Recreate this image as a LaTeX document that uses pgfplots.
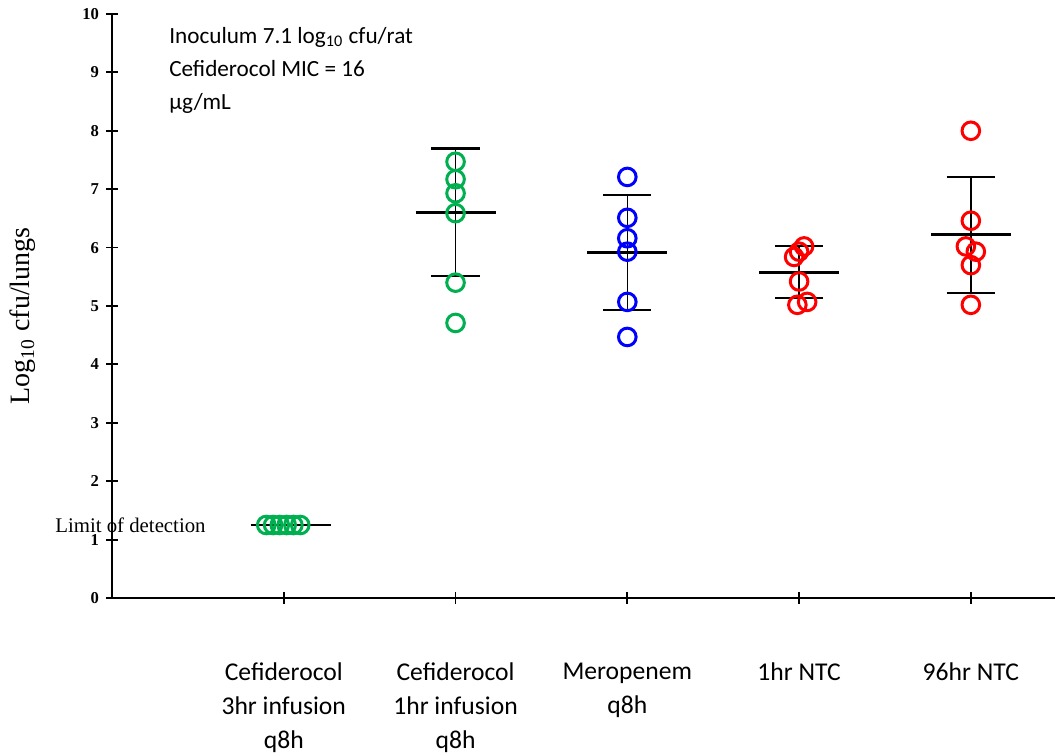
\documentclass[border=0pt]{standalone}
\usepackage{fontspec}
\setmainfont{Liberation Serif}
\newfontfamily\calibri{Carlito}
\usepackage{pgfplots}
\pgfplotsset{compat=1.18}
\definecolor{xlgreen}{RGB}{0,176,80}
\begin{document}
\begin{tikzpicture}
\begin{axis}[
  name=ax,
  scale only axis,
  width=471.5pt, height=292pt,
  xmin=0, xmax=5.49, ymin=0, ymax=10,
  axis x line=bottom, axis y line=left,
  axis line style={-, line width=0.9pt},
  every tick/.style={black, line width=0.9pt},
  tick align=center,
  major tick length=6pt,
  xtick={1,2,3,4,5},
  xticklabels={{Cefiderocol\\3hr infusion\\q8h},{Cefiderocol\\1hr infusion\\q8h},{Meropenem\\q8h},{1hr NTC},{96hr NTC}},
  xticklabel style={font=\calibri\fontsize{12.8}{17}\selectfont, align=center, anchor=north, yshift=-26pt},
  ytick={0,1,...,10},
  /pgf/number format/assume math mode=true,
  yticklabel style={font=\fontsize{8.3}{10}\selectfont\bfseries},
  ylabel={Log\textsubscript{10} cfu/lungs},
  ylabel style={font=\fontsize{14}{16}\selectfont, at={(rel axis cs:-0.0944,0.483)}, anchor=center, rotate=0},
  clip=false,
  unbounded coords=jump,
]
% mean lines
\addplot[black, line width=1.3pt] coordinates {
  (0.808,1.25) (1.273,1.25) (nan,nan)
  (1.767,6.60) (2.233,6.60) (nan,nan)
  (2.767,5.92) (3.233,5.92) (nan,nan)
  (3.767,5.57) (4.233,5.57) (nan,nan)
  (4.767,6.22) (5.233,6.22)
};
% SD vertical lines
\addplot[black, line width=0.75pt] coordinates {
  (2,5.51) (2,7.70) (nan,nan)
  (3,4.93) (3,6.90) (nan,nan)
  (4,5.14) (4,6.03) (nan,nan)
  (5,5.22) (5,7.21)
};
% SD caps
\addplot[black, line width=1.2pt] coordinates {
  (1.86,7.70) (2.14,7.70) (nan,nan) (1.86,5.51) (2.14,5.51) (nan,nan)
  (2.86,6.90) (3.14,6.90) (nan,nan) (2.86,4.93) (3.14,4.93) (nan,nan)
  (3.86,6.03) (4.14,6.03) (nan,nan) (3.86,5.14) (4.14,5.14) (nan,nan)
  (4.86,7.21) (5.14,7.21) (nan,nan) (4.86,5.22) (5.14,5.22)
};
% points
\addplot[only marks, mark=o, mark size=4.4pt, mark options={xlgreen, line width=1.5pt}] coordinates {
  (0.898,1.25) (0.938,1.25) (0.977,1.25) (1.017,1.25) (1.056,1.25) (1.096,1.25)
};
\addplot[only marks, mark=o, mark size=4.4pt, mark options={xlgreen, line width=1.5pt}] coordinates {
  (2,7.47) (2,7.17) (2,6.93) (2,6.59) (2,5.40) (2,4.71)
};
\addplot[only marks, mark=o, mark size=4.4pt, mark options={blue, line width=1.5pt}] coordinates {
  (3,7.21) (3,6.51) (3,6.16) (3,5.93) (3,5.07) (3,4.47)
};
\addplot[only marks, mark=o, mark size=4.4pt, mark options={red, line width=1.5pt}] coordinates {
  (4.029,6.02) (4.0,5.93) (3.971,5.84) (4.0,5.42) (3.99,5.02) (4.047,5.07)
};
\addplot[only marks, mark=o, mark size=4.4pt, mark options={red, line width=1.5pt}] coordinates {
  (5,8.00) (5,6.46) (4.971,6.02) (5.029,5.93) (5,5.70) (5,5.02)
};
\node[anchor=north west, align=left, inner sep=0pt, font=\calibri\fontsize{11.6}{16.5}\selectfont] at (axis cs:0.331,9.78)
  {Inoculum 7.1 log\textsubscript{10} cfu/rat\\Cefiderocol MIC = 16\\µg/mL};
\node[anchor=east, inner sep=0pt, font=\fontsize{10.4}{12}\selectfont] at (axis cs:0.547,1.25) {Limit of detection};
\end{axis}
\pgfresetboundingbox
\path ([xshift=-56pt,yshift=-77.5pt]ax.south west) rectangle ([yshift=7pt]ax.north east);
\end{tikzpicture}
\end{document}
